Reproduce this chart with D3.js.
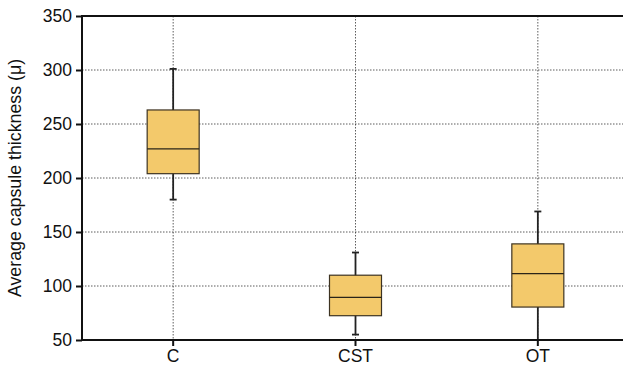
<!DOCTYPE html>
<html>
<head>
<meta charset="utf-8">
<script src="https://cdn.jsdelivr.net/npm/d3@7"></script>
<style>
  body { margin: 0; background: #fff; }
  svg { font-family: "Liberation Sans", Arial, sans-serif; }
  .grid line { stroke: #333; stroke-width: 0.8; stroke-dasharray: 1.5,1.5; }
</style>
</head>
<body>
<div id="chart"></div>
<script>
// data
var groups = ["C", "CST", "OT"];
var whiskerLow = [180, 55, 50];
var q1 = [204, 72.5, 80.5];
var median = [227, 89.5, 111.5];
var q3 = [263, 110, 139];
var whiskerHigh = [301, 131, 169];
var yTicks = [50, 100, 150, 200, 250, 300, 350];

var W = 623, H = 372;
var margin = {top: 16, right: -6, bottom: 32, left: 82};
var width = W - margin.left - margin.right, height = H - margin.top - margin.bottom;

var svg = d3.select("#chart").append("svg")
    .attr("width", W)
    .attr("height", H)
  .append("g")
    .attr("transform", "translate(" + margin.left + "," + margin.top + ")");

var x = d3.scaleBand().domain(groups).range([0, width]);
var y = d3.scaleLinear().domain([50, 350]).range([height, 0]);

// grid
svg.append("g").attr("class", "grid")
  .selectAll("line.h").data(yTicks.slice(1, -1)).enter().append("line")
    .attr("x1", 0).attr("x2", width)
    .attr("y1", function(d) { return y(d); }).attr("y2", function(d) { return y(d); });
svg.select(".grid")
  .selectAll("line.v").data(groups).enter().append("line")
    .attr("x1", function(d) { return x(d) + x.bandwidth() / 2; })
    .attr("x2", function(d) { return x(d) + x.bandwidth() / 2; })
    .attr("y1", 0).attr("y2", height);

// boxes
var data = groups.map(function(g, i) {
  return {g: g, lo: whiskerLow[i], q1: q1[i], med: median[i], q3: q3[i], hi: whiskerHigh[i]};
});
var boxW = 52, capW = 7;
var b = svg.selectAll(".box").data(data).enter().append("g")
    .attr("transform", function(d) { return "translate(" + (x(d.g) + x.bandwidth() / 2) + ",0)"; });

b.append("line")
    .attr("y1", function(d) { return y(d.hi); }).attr("y2", function(d) { return y(d.lo); })
    .attr("stroke", "#222").attr("stroke-width", 1.8);
b.filter(function(d) { return d.lo > 50; }).append("line")
    .attr("x1", -capW / 2).attr("x2", capW / 2)
    .attr("y1", function(d) { return y(d.lo); }).attr("y2", function(d) { return y(d.lo); })
    .attr("stroke", "#222").attr("stroke-width", 1.8);
b.append("line")
    .attr("x1", -capW / 2).attr("x2", capW / 2)
    .attr("y1", function(d) { return y(d.hi); }).attr("y2", function(d) { return y(d.hi); })
    .attr("stroke", "#222").attr("stroke-width", 1.8);
b.append("rect")
    .attr("x", -boxW / 2).attr("width", boxW)
    .attr("y", function(d) { return y(d.q3); })
    .attr("height", function(d) { return y(d.q1) - y(d.q3); })
    .attr("fill", "#f3c96b").attr("stroke", "#3d3322").attr("stroke-width", 1.2);
b.append("line")
    .attr("x1", -boxW / 2).attr("x2", boxW / 2)
    .attr("y1", function(d) { return y(d.med); }).attr("y2", function(d) { return y(d.med); })
    .attr("stroke", "#2a2418").attr("stroke-width", 1.4);

// axes
var yAxis = svg.append("g")
    .call(d3.axisLeft(y).tickValues(yTicks).tickSize(6).tickPadding(4));
var xAxis = svg.append("g")
    .attr("transform", "translate(0," + height + ")")
    .call(d3.axisBottom(x).tickSize(6).tickPadding(4));
[yAxis, xAxis].forEach(function(a) {
  a.select(".domain").remove();
  a.selectAll("line").attr("stroke", "#111").attr("stroke-width", 2);
  a.selectAll("text").attr("font-size", 17.5).attr("fill", "#111")
      .attr("font-family", "'Liberation Sans', Arial, sans-serif");
});

// spines
svg.append("line").attr("x1", 0).attr("x2", 0).attr("y1", -1).attr("y2", height + 1)
    .attr("stroke", "#111").attr("stroke-width", 2);
svg.append("line").attr("x1", -1).attr("x2", width).attr("y1", height).attr("y2", height)
    .attr("stroke", "#111").attr("stroke-width", 2);
svg.append("line").attr("x1", -1).attr("x2", width).attr("y1", 0).attr("y2", 0)
    .attr("stroke", "#111").attr("stroke-width", 2);

// y label
svg.append("text")
    .attr("transform", "translate(" + (-61) + "," + (height / 2) + ") rotate(-90)")
    .attr("text-anchor", "middle")
    .attr("font-size", 17.8)
    .attr("fill", "#111")
    .text("Average capsule thickness (μ)");
</script>
</body>
</html>
